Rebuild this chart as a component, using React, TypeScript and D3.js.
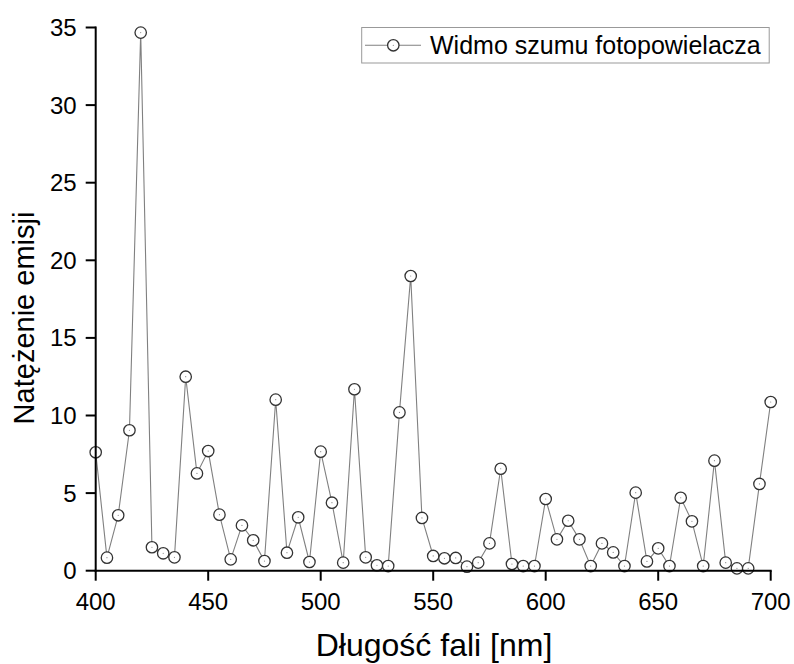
import React from "react";
import * as d3 from "d3";

const wavelengths = [
  400, 405, 410, 415, 420, 425, 430, 435, 440, 445,
  450, 455, 460, 465, 470, 475, 480, 485, 490, 495,
  500, 505, 510, 515, 520, 525, 530, 535, 540, 545,
  550, 555, 560, 565, 570, 575, 580, 585, 590, 595,
  600, 605, 610, 615, 620, 625, 630, 635, 640, 645,
  650, 655, 660, 665, 670, 675, 680, 685, 690, 695, 700,
];
const intensity = [
  7.63, 0.84, 3.57, 9.05, 34.67, 1.51, 1.12, 0.86, 12.5, 6.27,
  7.71, 3.61, 0.73, 2.92, 1.96, 0.62, 11.02, 1.16, 3.44, 0.56,
  7.67, 4.38, 0.52, 11.69, 0.86, 0.35, 0.3, 10.2, 18.99, 3.4,
  0.95, 0.8, 0.82, 0.26, 0.52, 1.76, 6.57, 0.43, 0.3, 0.3,
  4.62, 2.02, 3.22, 2.02, 0.3, 1.76, 1.18, 0.3, 5.03, 0.6,
  1.44, 0.3, 4.7, 3.18, 0.3, 7.09, 0.52, 0.15, 0.15, 5.59, 10.87,
];
const xTicks = [400, 450, 500, 550, 600, 650, 700];
const yTicks = [0, 5, 10, 15, 20, 25, 30, 35];
const seriesName = "Widmo szumu fotopowielacza";
const xTitle = "Długość fali [nm]";
const yTitle = "Natężenie emisji";

const FONT = "'Liberation Sans', Arial, sans-serif";

export default function App() {
  const x = d3.scaleLinear().domain([400, 700]).range([95.7, 770.7]);
  const y = d3.scaleLinear().domain([0, 35]).range([570.7, 27.5]);
  const data = wavelengths.map((w, i) => ({ w, v: intensity[i] }));
  const line = d3
    .line<{ w: number; v: number }>()
    .x((d) => x(d.w))
    .y((d) => y(d.v));

  const x0 = x(400);
  const y0 = y(0);

  return (
    <svg
      width={794}
      height={664}
      style={{ position: "absolute", left: 0, top: 0, background: "#fff" }}
      fontFamily={FONT}
    >
      <rect x={0} y={0} width={794} height={664} fill="#fff" />
      {/* data line */}
      <path d={line(data) || ""} fill="none" stroke="#808080" strokeWidth={1.1} />
      {/* markers */}
      {data.map((d, i) => (
        <g key={i}>
          <circle cx={x(d.w)} cy={y(d.v)} r={5.7} fill="#fff" stroke="#333" strokeWidth={1.3} />
          <circle cx={x(d.w)} cy={y(d.v)} r={0.6} fill="#888" />
        </g>
      ))}
      {/* axes */}
      <line x1={x0} x2={x0} y1={y(35) - 1} y2={y0 + 1} stroke="#000" strokeWidth={2} />
      <line x1={x0 - 1} x2={x(700) + 1} y1={y0} y2={y0} stroke="#000" strokeWidth={2} />
      {yTicks.map((t) => (
        <g key={"y" + t}>
          <line x1={x0 - 10} x2={x0} y1={y(t)} y2={y(t)} stroke="#000" strokeWidth={2} />
          <text x={x0 - 19} y={y(t)} dy="0.35em" textAnchor="end" fontSize={24} fill="#000">
            {t}
          </text>
        </g>
      ))}
      {xTicks.map((t) => (
        <g key={"x" + t}>
          <line x1={x(t)} x2={x(t)} y1={y0} y2={y0 + 10} stroke="#000" strokeWidth={2} />
          <text x={x(t)} y={610} textAnchor="middle" fontSize={24} fill="#000">
            {t}
          </text>
        </g>
      ))}
      {/* axis titles */}
      <text x={434} y={656} textAnchor="middle" fontSize={32} fill="#000">
        {xTitle}
      </text>
      <text
        transform={`translate(34,318) rotate(-90)`}
        textAnchor="middle"
        fontSize={29}
        fill="#000"
      >
        {yTitle}
      </text>
      {/* legend */}
      <rect x={361.7} y={27.5} width={407.5} height={35.5} fill="#fff" stroke="#999" strokeWidth={1} />
      <line x1={365} x2={421} y1={45.3} y2={45.3} stroke="#808080" strokeWidth={1.1} />
      <circle cx={393.3} cy={45.3} r={5.7} fill="#fff" stroke="#333" strokeWidth={1.3} />
      <circle cx={393.3} cy={45.3} r={0.6} fill="#888" />
      <text x={430} y={54} fontSize={25} fill="#000">
        {seriesName}
      </text>
    </svg>
  );
}
